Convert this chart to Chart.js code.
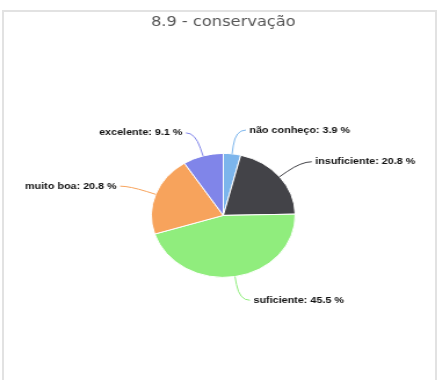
<!DOCTYPE html>
<html>
<head>
<meta charset="utf-8">
<script src="https://cdn.jsdelivr.net/npm/chart.js@4.4.0/dist/chart.umd.min.js"></script>
<style>
  body { margin: 0; background: #fff; overflow: hidden; }
  #frame { position: absolute; left: 2px; top: 10px; width: 431px; height: 400px; border: 2px solid #e2e2e2; }
  #wrap { position: absolute; left: 0; top: 0; width: 377px; height: 380px; transform: scaleX(1.16); transform-origin: 0 0; }
</style>
</head>
<body>
<div id="frame"></div>
<div id="wrap"><canvas id="pie" width="377" height="380"></canvas></div>
<script>
const categories = ['não conheço', 'insuficiente', 'suficiente', 'muito boa', 'excelente'];
const percents = [3.9, 20.8, 45.5, 20.8, 9.1];
const colors = ['#7cb5ec', '#434348', '#90ed7d', '#f7a35c', '#8085e9'];

// labels with soft connectors, Highcharts style
const pieLabels = {
    id: 'pieLabels',
    afterDatasetsDraw(chart) {
        const ctx = chart.ctx;
        const meta = chart.getDatasetMeta(0);
        ctx.save();
        ctx.font = 'bold 9.3px "Liberation Sans", Arial, sans-serif';
        ctx.textBaseline = 'middle';
        meta.data.forEach((arc, i) => {
            const mid = (arc.startAngle + arc.endAngle) / 2;
            const r = arc.outerRadius;
            const cos = Math.cos(mid), sin = Math.sin(mid);
            const right = cos >= 0;
            const ex = arc.x + r * cos, ey = arc.y + r * sin;
            const R = r + 24;
            const lx = arc.x + R * cos, ly = arc.y + R * sin;
            const tx = lx + (right ? 12 : -11);
            ctx.strokeStyle = colors[i];
            ctx.lineWidth = 1;
            ctx.beginPath();
            ctx.moveTo(tx + (right ? -3 : 3), ly);
            ctx.quadraticCurveTo(lx, ly, arc.x + (r + 8) * cos, arc.y + (r + 8) * sin);
            ctx.lineTo(ex, ey);
            ctx.stroke();
            ctx.fillStyle = '#111';
            ctx.textAlign = right ? 'left' : 'right';
            ctx.fillText(categories[i] + ': ' + percents[i] + ' %', tx, ly);
        });
        ctx.restore();
    }
};

new Chart(document.getElementById('pie'), {
    type: 'pie',
    data: {
        labels: categories,
        datasets: [{
            data: percents,
            backgroundColor: colors,
            borderColor: '#ffffff',
            borderWidth: 1,
        }],
    },
    options: {
        responsive: false,
        animation: false,
        layout: { padding: { left: 130, right: 122, top: 0, bottom: 102 } },
        plugins: {
            legend: { display: false },
            tooltip: { enabled: false },
            title: {
                display: true,
                text: '8.9 - conservação',
                color: '#555',
                font: { family: '"DejaVu Sans", sans-serif', size: 14, weight: 'normal', lineHeight: 1.2 },
                padding: { top: 14, bottom: 122 },
            },
        },
    },
    plugins: [pieLabels],
});
</script>
</body>
</html>
